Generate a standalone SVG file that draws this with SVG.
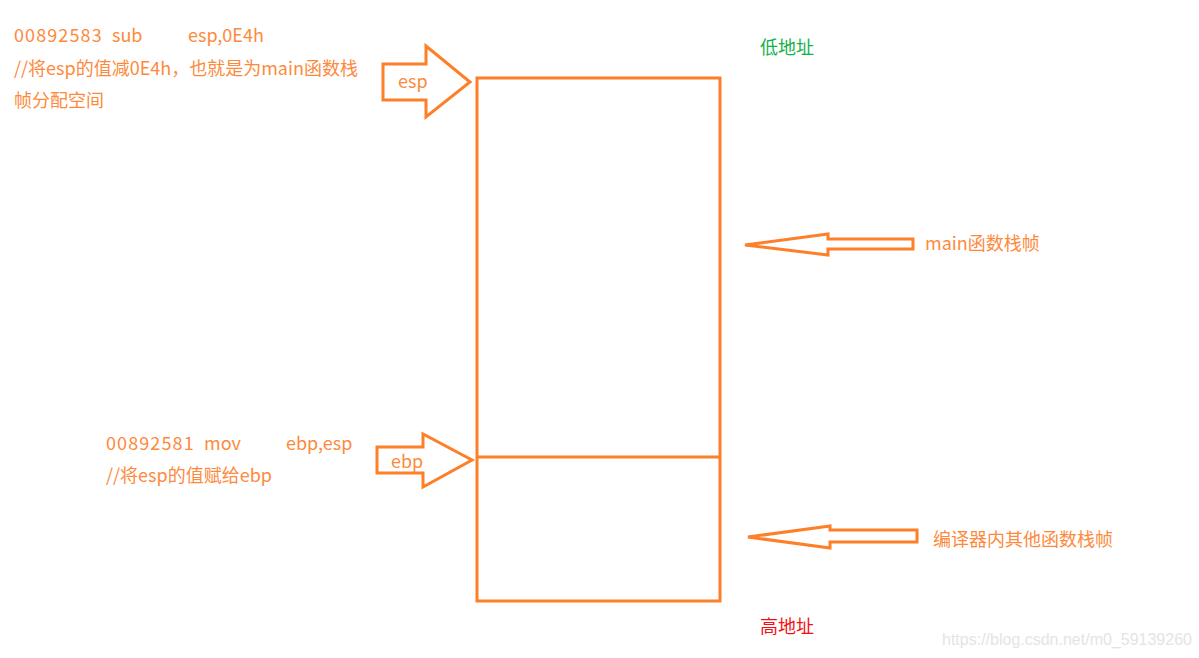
<svg xmlns="http://www.w3.org/2000/svg" width="1199" height="658" viewBox="0 0 1199 658">
<style>
.t{font-family:"Noto Sans CJK SC","Noto Sans",sans-serif;font-size:18px;fill:#fd8a3c}
.n{letter-spacing:1.1px}
.s{fill:none;stroke:#fd7f28;stroke-width:3;stroke-linejoin:miter}
.wm{font-family:"Liberation Sans",Arial,sans-serif;font-size:16px;fill:#e4e4e4}
</style>
<rect width="1199" height="658" fill="#fff"/>
<g id="stack">
<rect class="s" x="477" y="78" width="243" height="523"/>
<line class="s" x1="477" y1="457" x2="720" y2="457"/>
</g>
<g id="connectors">
<g id="esp-arrow">
<polygon class="s" points="383,64 426,64 426,46 470,82 426,117 426,100 383,100"/>
<text class="t" x="398" y="88">esp</text>
</g>
<g id="ebp-arrow">
<polygon class="s" points="377,447 423,447 423,434 472,460 423,487 423,473 377,473"/>
<text class="t" x="391" y="468">ebp</text>
</g>
<g id="main-arrow">
<polygon class="s" points="913,239 828,239 828,234 745,245 828,255 828,249 913,249"/>
</g>
<g id="other-arrow">
<polygon class="s" points="917,530 830,530 830,526 748,537 830,548 830,542 917,542"/>
</g>
</g>
<g id="sub-note">
<text class="t" x="14" y="42"><tspan class="n">00892583</tspan><tspan x="112">sub</tspan><tspan x="188">esp,0E4h</tspan></text>
<text class="t" x="14" y="75">//将esp的值减0E4h，也就是为main函数栈</text>
<text class="t" x="14" y="107">帧分配空间</text>
</g>
<g id="mov-note">
<text class="t" x="106" y="450"><tspan class="n">00892581</tspan><tspan x="204">mov</tspan><tspan x="286">ebp,esp</tspan></text>
<text class="t" x="106" y="482">//将esp的值赋给ebp</text>
</g>
<g id="labels">
<text class="t" x="925" y="250">main函数栈帧</text>
<text class="t" x="933" y="546">编译器内其他函数栈帧</text>
<text class="t" x="760" y="54" style="fill:#14b04c">低地址</text>
<text class="t" x="760" y="633" style="fill:#f31010">高地址</text>
</g>
<text class="wm" x="942" y="645">https://blog.csdn.net/m0_59139260</text>
</svg>
